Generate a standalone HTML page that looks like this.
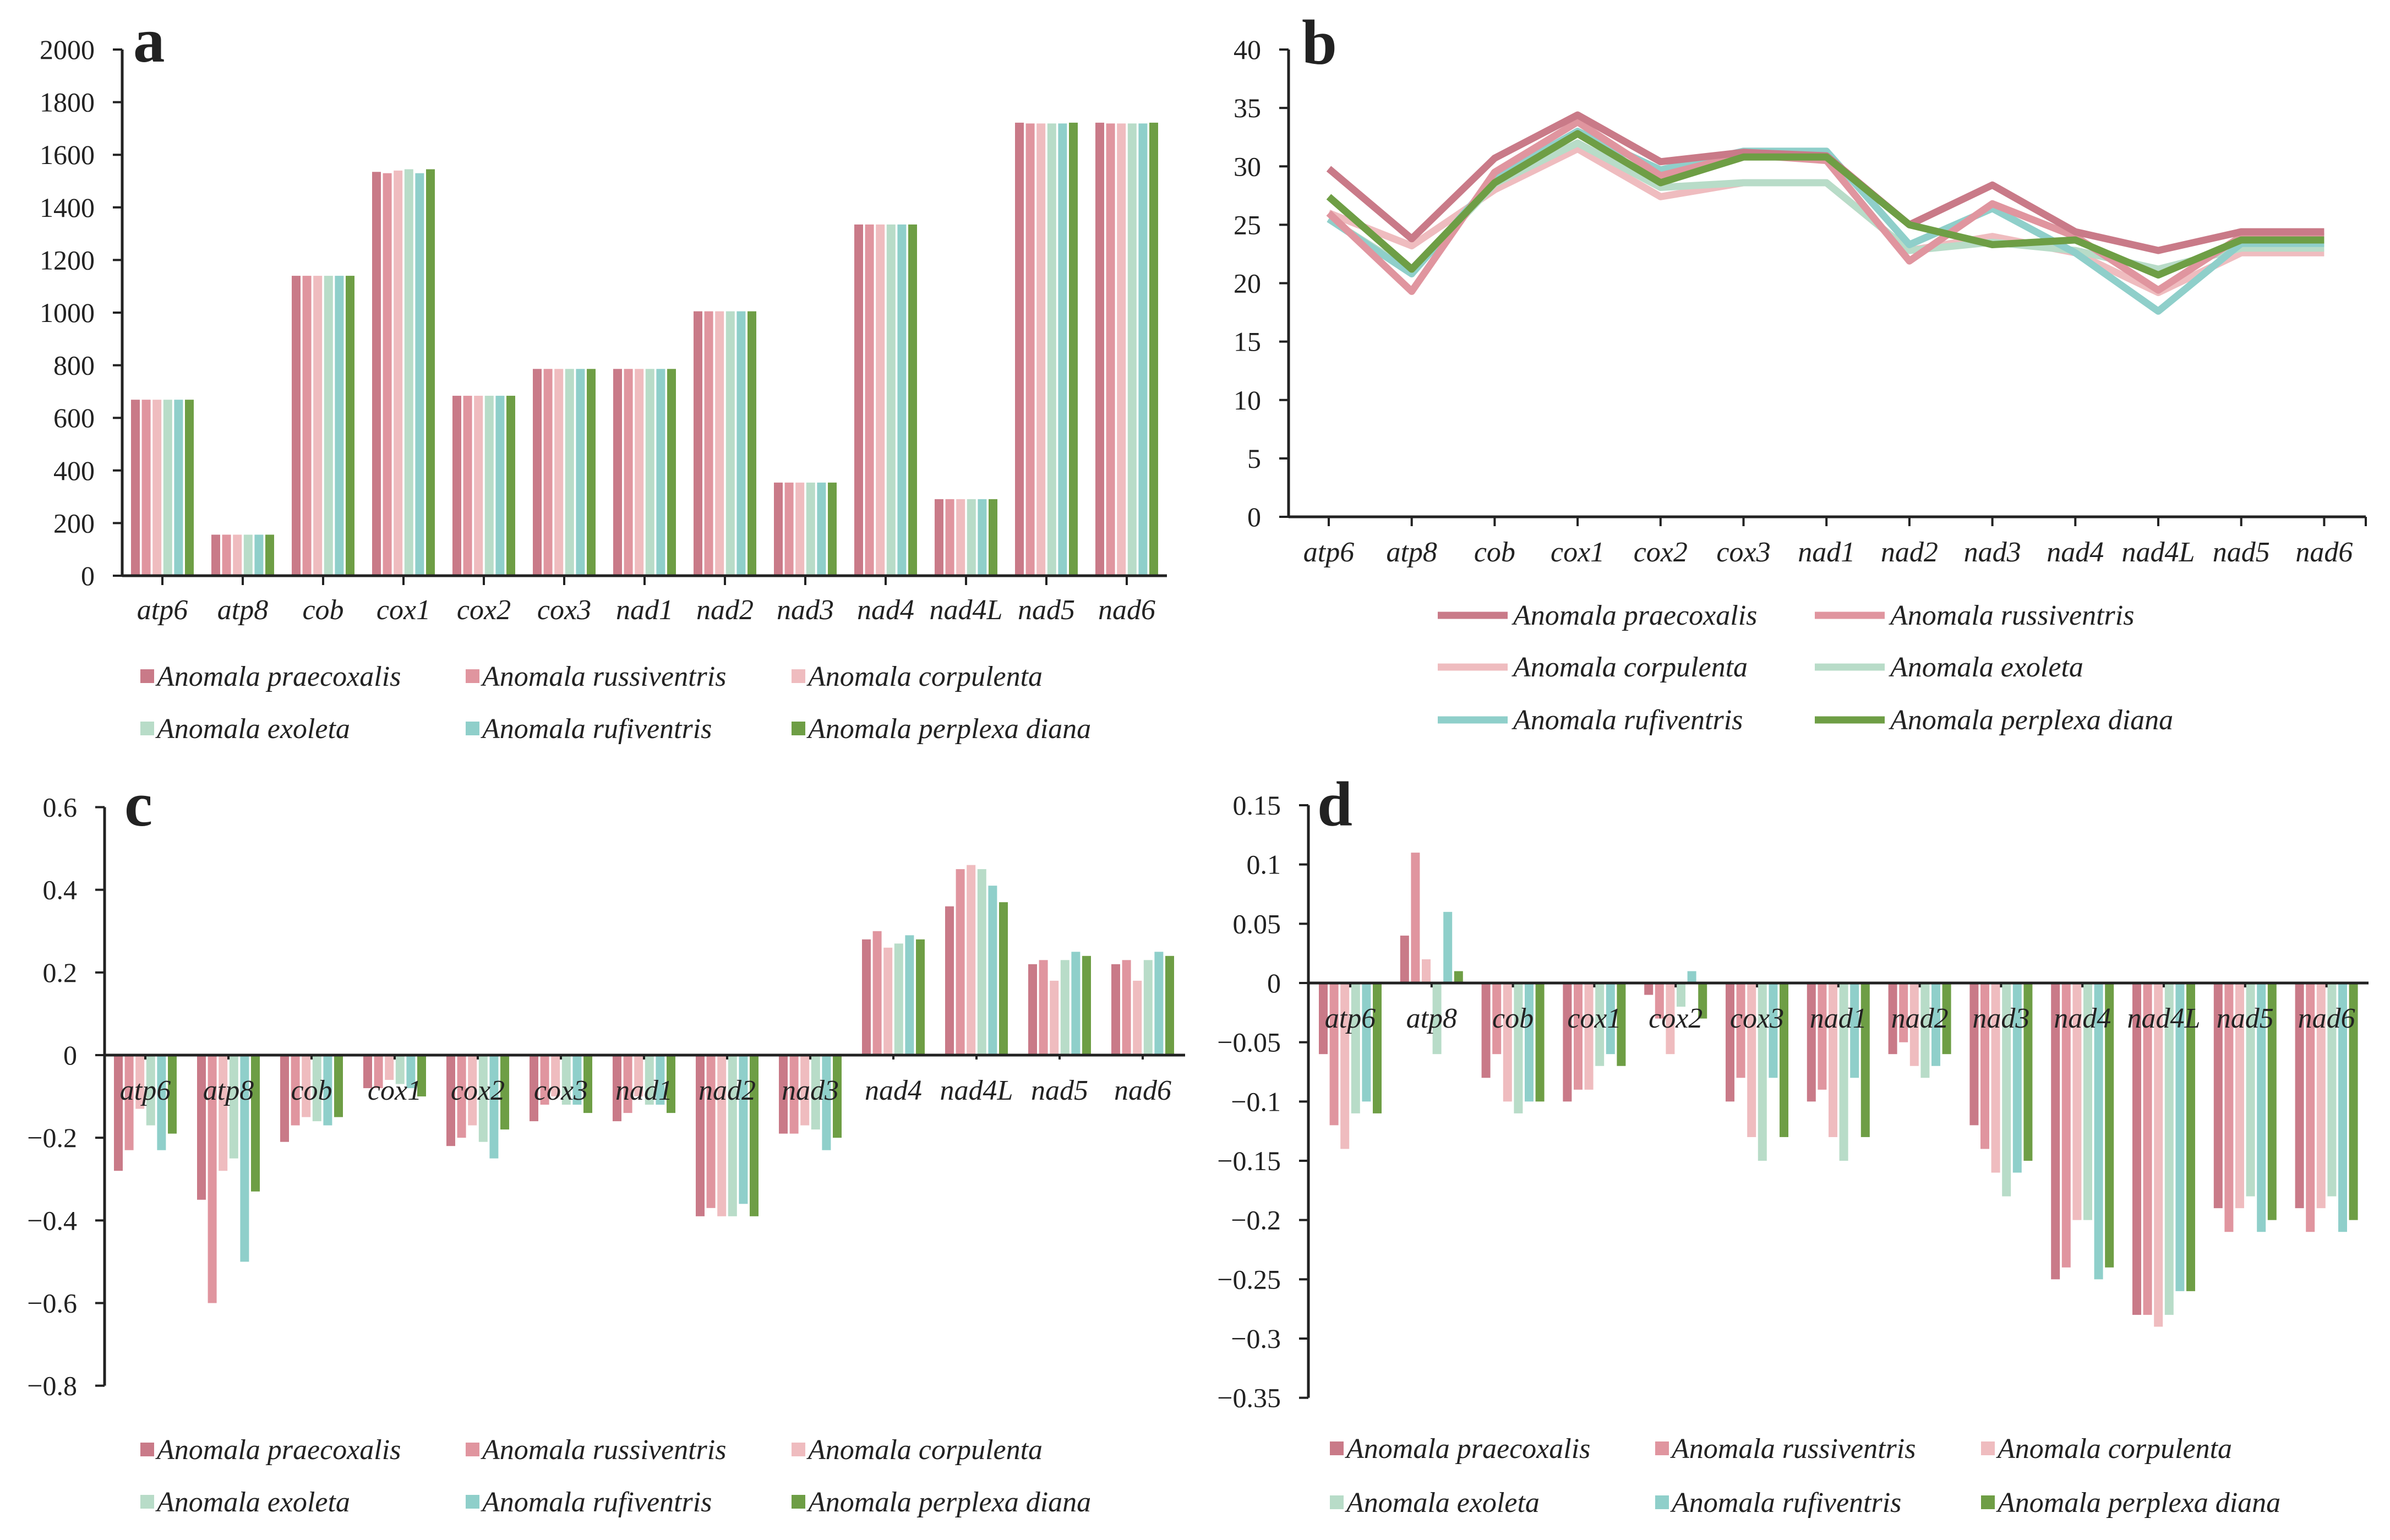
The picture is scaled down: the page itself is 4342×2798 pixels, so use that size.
<!DOCTYPE html>
<html><head><meta charset="utf-8">
<style>
html,body{margin:0;padding:0;background:#fff;}
svg{display:block;}
text{font-family:"Liberation Serif",serif;fill:#222;}
</style></head>
<body>
<svg id="fig" width="4342" height="2798" viewBox="0 0 4342 2798" xmlns="http://www.w3.org/2000/svg"></svg>
<script>
const categories = ["atp6","atp8","cob","cox1","cox2","cox3","nad1","nad2","nad3","nad4","nad4L","nad5","nad6"];
const species = ["Anomala praecoxalis","Anomala russiventris","Anomala corpulenta","Anomala exoleta","Anomala rufiventris","Anomala perplexa diana"];
const colors = ["#c97a88","#e0959f","#efbcbf","#b8dcc8","#8fcfca","#6e9e45"];

// Panel a: gene length
const aTicks = [0,200,400,600,800,1000,1200,1400,1600,1800,2000];
const aPraecoxalis = [669,156,1140,1535,684,786,786,1005,354,1335,291,1722,1722];
const aRussiventris = [669,156,1140,1530,684,786,786,1005,354,1335,291,1719,1719];
const aCorpulenta  = [669,156,1140,1540,684,786,786,1005,354,1335,291,1719,1719];
const aExoleta     = [669,156,1140,1545,684,786,786,1005,354,1335,291,1719,1719];
const aRufiventris = [669,156,1140,1530,684,786,786,1005,354,1335,291,1719,1719];
const aPerplexa    = [669,156,1140,1545,684,786,786,1005,354,1335,291,1722,1722];

// Panel b: line values
const bTicks = [0,5,10,15,20,25,30,35,40];
const bPraecoxalis = [29.8,23.8,30.7,34.4,30.4,31.2,30.9,25.0,28.4,24.4,22.8,24.4,24.4];
const bRussiventris = [26.0,19.3,29.5,33.8,29.2,31.0,30.5,21.9,26.8,24.0,19.4,24.0,24.0];
const bCorpulenta  = [26.0,23.2,28.0,31.5,27.4,28.6,28.6,22.8,24.0,22.6,19.2,22.6,22.6];
const bExoleta     = [25.5,21.0,28.5,32.0,28.2,28.6,28.6,22.8,23.5,22.8,21.2,23.0,23.0];
const bRufiventris = [25.5,20.8,29.0,33.0,29.7,31.3,31.3,23.3,26.4,22.6,17.6,23.4,23.4];
const bPerplexa    = [27.4,21.2,28.6,32.8,28.6,30.8,30.8,25.0,23.3,23.7,20.7,23.7,23.7];

// Panel c: skew
const cTicks = [-0.8,-0.6,-0.4,-0.2,0,0.2,0.4,0.6];
const cTickLabels = ["\u22120.8","\u22120.6","\u22120.4","\u22120.2","0","0.2","0.4","0.6"];
const cPraecoxalis = [-0.28,-0.35,-0.21,-0.08,-0.22,-0.16,-0.16,-0.39,-0.19,0.28,0.36,0.22,0.22];
const cRussiventris = [-0.23,-0.60,-0.17,-0.08,-0.20,-0.12,-0.14,-0.37,-0.19,0.30,0.45,0.23,0.23];
const cCorpulenta  = [-0.13,-0.28,-0.15,-0.06,-0.17,-0.10,-0.10,-0.39,-0.17,0.26,0.46,0.18,0.18];
const cExoleta     = [-0.17,-0.25,-0.16,-0.07,-0.21,-0.12,-0.12,-0.39,-0.18,0.27,0.45,0.23,0.23];
const cRufiventris = [-0.23,-0.50,-0.17,-0.08,-0.25,-0.12,-0.12,-0.36,-0.23,0.29,0.41,0.25,0.25];
const cPerplexa    = [-0.19,-0.33,-0.15,-0.10,-0.18,-0.14,-0.14,-0.39,-0.20,0.28,0.37,0.24,0.24];

// Panel d: skew
const dTicks = [-0.35,-0.3,-0.25,-0.2,-0.15,-0.1,-0.05,0,0.05,0.1,0.15];
const dTickLabels = ["\u22120.35","\u22120.3","\u22120.25","\u22120.2","\u22120.15","\u22120.1","\u22120.05","0","0.05","0.1","0.15"];
const dPraecoxalis = [-0.06,0.04,-0.08,-0.10,-0.01,-0.10,-0.10,-0.06,-0.12,-0.25,-0.28,-0.19,-0.19];
const dRussiventris = [-0.12,0.11,-0.06,-0.09,-0.03,-0.08,-0.09,-0.05,-0.14,-0.24,-0.28,-0.21,-0.21];
const dCorpulenta  = [-0.14,0.02,-0.10,-0.09,-0.06,-0.13,-0.13,-0.07,-0.16,-0.20,-0.29,-0.19,-0.19];
const dExoleta     = [-0.11,-0.06,-0.11,-0.07,-0.02,-0.15,-0.15,-0.08,-0.18,-0.20,-0.28,-0.18,-0.18];
const dRufiventris = [-0.10,0.06,-0.10,-0.06,0.01,-0.08,-0.08,-0.07,-0.16,-0.25,-0.26,-0.21,-0.21];
const dPerplexa    = [-0.11,0.01,-0.10,-0.07,-0.03,-0.13,-0.13,-0.06,-0.15,-0.24,-0.26,-0.20,-0.20];

const NS = "http://www.w3.org/2000/svg";
const svg = document.getElementById("fig");
function mk(tag, attrs, parent){
  const e = document.createElementNS(NS, tag);
  for (const k in attrs) e.setAttribute(k, attrs[k]);
  (parent||svg).appendChild(e);
  return e;
}
function txt(s, attrs, parent){ const t = mk("text", attrs, parent); t.textContent = s; return t; }

function linY(v0, y0, v1, y1){ return v => y0 + (v - v0) * (y1 - y0) / (v1 - v0); }

function drawAxes(g, x0, x1, yScale, ticks, labels, zeroVal, catCenter, labelY, labelsOnZero, tickStyle){
  const yTop = yScale(ticks[ticks.length-1]), yBot = yScale(ticks[0]);
  const ax = mk("line",{x1:x0,y1:yTop,x2:x0,y2:yBot,stroke:"#222","stroke-width":5},g);
  
  
  ticks.forEach((t,i)=>{
    const y = yScale(t);
    const tk = mk("line",{x1:x0-17,y1:y,x2:x0,y2:y,stroke:"#222","stroke-width":4},g);
    
    
    const lb = txt(labels[i],{x:x0-50,y:y+17,"text-anchor":"end","font-size":50},g);
    
    
  });
  const yz = yScale(zeroVal);
  const xa = mk("line",{x1:x0,y1:yz,x2:x1,y2:yz,stroke:"#222","stroke-width":5},g);
  
  
  categories.forEach((c,i)=>{
    const cx = catCenter(i);
    const tk = mk("line",{x1:cx,y1:yz,x2:cx,y2:yz+(labelsOnZero?8:17),stroke:"#222","stroke-width":4},g);
    
    
    const lb = txt(c,{x:cx,y:labelY,"text-anchor":"middle","font-size":52,"font-style":"italic"},g);
    
    
  });
  if(tickStyle==="end"){
    const tk = mk("line",{x1:x1,y1:yz,x2:x1,y2:yz+17,stroke:"#222","stroke-width":4},g);
    
    
  }
}

function drawBars(g, series, catCenter, yScale){
  const pitch = 19.6, w = 16;
  const y0 = yScale(0);
  series.forEach((vals,s)=>{
    vals.forEach((v,i)=>{
      const x = catCenter(i) - 57 + s*pitch;
      const y = yScale(v);
      const r = mk("rect",{x:x,y:Math.min(y,y0),width:w,height:Math.abs(y-y0),fill:colors[s]},g);
      
      
    });
  });
}

function drawSquareLegend(g, x0, rows){
  const cols=[x0, x0+591, x0+1183];
  species.forEach((sp,i)=>{
    const cx = cols[i%3], cy = rows[Math.floor(i/3)];
    const item = mk("g",{},g);
    
    
    const sq = mk("rect",{x:cx,y:cy-13,width:25,height:25,fill:colors[i]},item);
    
    
    const t = txt(sp,{x:cx+30,y:cy+17,"font-size":52,"font-style":"italic"},item);
    
    
  });
}

function panelLetter(g, s, x, y){
  const t = txt(s,{x:x,y:y,"font-size":115,"font-weight":"bold"},g);
  
  
}

// ---- Panel a ----
(function(){
  const g = mk("g",{});  
  const y = linY(0,1046,2000,90);
  const cc = i => 295 + i*146;
  drawBars(g,[aPraecoxalis,aRussiventris,aCorpulenta,aExoleta,aRufiventris,aPerplexa],cc,y);
  drawAxes(g,222,2120,y,aTicks,aTicks.map(String),0,cc,1125,false,"none");
  panelLetter(g,"a",242,112);
  drawSquareLegend(g,255,[1229,1324]);
})();

// ---- Panel b ----
(function(){
  const g = mk("g",{});  
  const y = linY(0,939,40,90);
  const cc = i => 2414 + i*150.7;
  drawAxes(g,2341,4298,y,bTicks,bTicks.map(String),0,cc,1020,false,"end");
  const series=[bCorpulenta,bExoleta,bRufiventris,bRussiventris,bPraecoxalis,bPerplexa];
  const idx=[2,3,4,1,0,5];
  series.forEach((vals,k)=>{
    const s = idx[k];
    const pts = vals.map((v,i)=>cc(i).toFixed(1)+","+y(v).toFixed(1)).join(" ");
    const pl = mk("polyline",{points:pts,fill:"none",stroke:colors[s],"stroke-width":13,"stroke-linejoin":"round"},g);
    
    
  });
  panelLetter(g,"b",2365,116);
  const cols=[2612,3297], rows=[1118,1212,1308];
  species.forEach((sp,i)=>{
    const cx=cols[i%2], cy=rows[Math.floor(i/2)];
    const item = mk("g",{},g);
    
    
    const ln = mk("line",{x1:cx,y1:cy,x2:cx+127,y2:cy,stroke:colors[i],"stroke-width":13},item);
    
    
    const t = txt(sp,{x:cx+137,y:cy+17,"font-size":52,"font-style":"italic"},item);
    
    
  });
})();

// ---- Panel c ----
(function(){
  const g = mk("g",{});  
  const y = linY(0,1917,0.6,1466.5);
  const cc = i => 264 + i*151;
  drawBars(g,[cPraecoxalis,cRussiventris,cCorpulenta,cExoleta,cRufiventris,cPerplexa],cc,y);
  drawAxes(g,190,2153,y,cTicks,cTickLabels,0,cc,1998,true,"none");
  panelLetter(g,"c",226,1500);
  drawSquareLegend(g,255,[2634,2729]);
})();

// ---- Panel d ----
(function(){
  const g = mk("g",{});  
  const y = linY(0,1786,0.15,1463);
  const cc = i => 2453 + i*147.8;
  drawBars(g,[dPraecoxalis,dRussiventris,dCorpulenta,dExoleta,dRufiventris,dPerplexa],cc,y);
  drawAxes(g,2377,4303,y,dTicks,dTickLabels,0,cc,1867,true,"none");
  panelLetter(g,"d",2393,1500);
  drawSquareLegend(g,2416,[2632,2730]);
})();
</script>
</body></html>
